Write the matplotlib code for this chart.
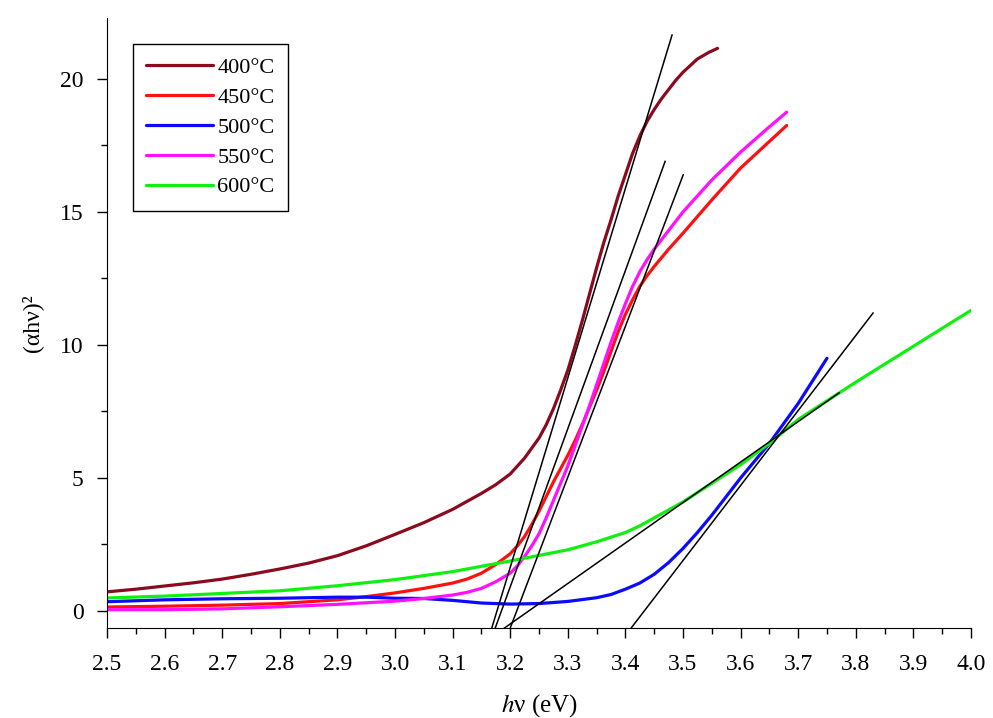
import numpy as np
import matplotlib
matplotlib.use("Agg")
import matplotlib.pyplot as plt
from matplotlib.ticker import MultipleLocator, FormatStrFormatter

plt.rcParams['font.family'] = ['Liberation Serif', 'DejaVu Serif']
plt.rcParams['mathtext.fontset'] = 'stix'

# Tauc plot curves
x_400 = [2.50, 2.55, 2.60, 2.65, 2.70, 2.75, 2.80, 2.85, 2.90, 2.95, 3.00, 3.05, 3.10, 3.15,
         3.175, 3.20, 3.225, 3.25, 3.2625, 3.275, 3.2875, 3.30, 3.3125, 3.325, 3.3375, 3.35,
         3.3625, 3.375, 3.3875, 3.40, 3.4125, 3.425, 3.4375, 3.45, 3.4625, 3.475, 3.4875,
         3.50, 3.525, 3.545, 3.56]
y_400 = [0.72, 0.82, 0.94, 1.06, 1.20, 1.38, 1.58, 1.80, 2.08, 2.45, 2.88, 3.32, 3.82, 4.42,
         4.75, 5.15, 5.75, 6.50, 7.00, 7.60, 8.30, 9.05, 9.95, 10.90, 11.90, 12.90,
         13.85, 14.70, 15.60, 16.40, 17.20, 17.85, 18.40, 18.85, 19.25, 19.60, 19.95,
         20.25, 20.75, 21.00, 21.15]

x_450 = [2.50, 2.60, 2.70, 2.80, 2.90, 2.95, 3.00, 3.05, 3.10, 3.125, 3.15, 3.175, 3.20,
         3.2125, 3.225, 3.2375, 3.25, 3.2625, 3.275, 3.2875, 3.30, 3.3125, 3.325, 3.3375,
         3.35, 3.3625, 3.375, 3.3875, 3.40, 3.4125, 3.425, 3.4375, 3.45, 3.475, 3.50, 3.55,
         3.60, 3.65, 3.68]
y_450 = [0.15, 0.18, 0.22, 0.28, 0.42, 0.54, 0.68, 0.85, 1.05, 1.20, 1.42, 1.75, 2.15,
         2.45, 2.80, 3.25, 3.75, 4.30, 4.85, 5.35, 5.85, 6.40, 7.00, 7.65,
         8.30, 9.00, 9.75, 10.50, 11.15, 11.70, 12.20, 12.60, 12.95, 13.60, 14.20, 15.45,
         16.65, 17.65, 18.25]

x_500 = [2.50, 2.60, 2.70, 2.80, 2.90, 2.95, 3.00, 3.05, 3.10, 3.15, 3.20, 3.25, 3.30,
         3.35, 3.375, 3.40, 3.425, 3.45, 3.475, 3.50, 3.525, 3.55, 3.575, 3.60, 3.65,
         3.70, 3.75]
y_500 = [0.35, 0.42, 0.46, 0.48, 0.52, 0.52, 0.48, 0.47, 0.40, 0.30, 0.26, 0.28, 0.36,
         0.50, 0.62, 0.82, 1.05, 1.38, 1.82, 2.35, 2.95, 3.60, 4.30, 5.00, 6.30,
         7.80, 9.50]

x_550 = [2.50, 2.60, 2.70, 2.80, 2.90, 3.00, 3.05, 3.10, 3.125, 3.15, 3.175, 3.20, 3.2125,
         3.225, 3.2375, 3.25, 3.2625, 3.275, 3.2875, 3.30, 3.3125, 3.325, 3.3375, 3.35,
         3.3625, 3.375, 3.3875, 3.40, 3.4125, 3.425, 3.4375, 3.45, 3.475, 3.50, 3.55,
         3.60, 3.65, 3.68]
y_550 = [0.05, 0.05, 0.08, 0.16, 0.25, 0.37, 0.47, 0.60, 0.70, 0.85, 1.10, 1.42, 1.70,
         2.05, 2.45, 2.90, 3.50, 4.15, 4.80, 5.45, 6.20, 6.95, 7.70, 8.50,
         9.30, 10.10, 10.85, 11.55, 12.20, 12.75, 13.20, 13.60, 14.30, 15.00, 16.20,
         17.25, 18.20, 18.75]

x_600 = [2.50, 2.60, 2.70, 2.80, 2.90, 3.00, 3.10, 3.20, 3.30, 3.35, 3.40, 3.425, 3.45,
         3.475, 3.50, 3.525, 3.55, 3.575, 3.60, 3.65, 3.70, 3.80, 3.90, 4.00]
y_600 = [0.49, 0.56, 0.66, 0.76, 0.95, 1.18, 1.48, 1.88, 2.30, 2.60, 2.95, 3.20, 3.50,
         3.80, 4.10, 4.45, 4.80, 5.15, 5.50, 6.30, 7.20, 8.60, 9.95, 11.30]

labels = ['400°C', '450°C', '500°C', '550°C', '600°C']
colors = ['#8b0a1e', '#ff1010', '#0a0aff', '#ff10ff', '#10f010']

# linear fits (start x, start y, end x, end y)
tangents = [
    (3.168, -0.64, 3.481, 21.65),
    (3.174, -0.64, 3.469, 16.9),
    (3.200, -0.64, 3.5005, 16.4),
    (3.190, -0.64, 3.771, 8.2),
    (3.410, -0.64, 3.830, 11.2),
]

fig = plt.figure(figsize=(9.93, 7.18), dpi=100)
ax = fig.add_axes([0.1078, 0.1253, 0.870, 0.850])

series = [(x_400, y_400), (x_450, y_450), (x_500, y_500), (x_550, y_550), (x_600, y_600)]
for (xs, ys), lab, c in zip(series, labels, colors):
    ax.plot(xs, ys, color=c, lw=2.3, label=lab, solid_capstyle='round', solid_joinstyle='round')

for x0, y0, x1, y1 in tangents:
    ax.plot([x0, x1], [y0, y1], color='black', lw=1.1)

ax.set_xlim(2.5, 4.0)
ax.set_ylim(-0.64, 22.3)

ax.spines['top'].set_visible(False)
ax.spines['right'].set_visible(False)
ax.xaxis.set_major_locator(MultipleLocator(0.1))
ax.xaxis.set_minor_locator(MultipleLocator(0.05))
ax.xaxis.set_major_formatter(FormatStrFormatter('%.1f'))
ax.yaxis.set_major_locator(MultipleLocator(5))
ax.yaxis.set_minor_locator(MultipleLocator(2.5))
ax.tick_params(which='major', direction='out', length=7, width=1, labelsize=17)
ax.tick_params(axis='x', which='major', pad=12)
ax.tick_params(axis='y', which='major', pad=10)
ax.tick_params(which='minor', direction='out', length=4, width=1)

ax.set_xlabel('$h$ν (eV)', fontsize=18, labelpad=12)
ax.set_ylabel('(αhν)²', fontsize=17, labelpad=12)

leg = ax.legend(loc='upper left', bbox_to_anchor=(0.03, 0.957), borderaxespad=0,
                fontsize=16, handlelength=3.0, handletextpad=0.2, labelspacing=0.42,
                fancybox=False, edgecolor='black', framealpha=1, borderpad=0.6)
leg.get_frame().set_linewidth(1.0)

fig.savefig('out.png', dpi=100)
